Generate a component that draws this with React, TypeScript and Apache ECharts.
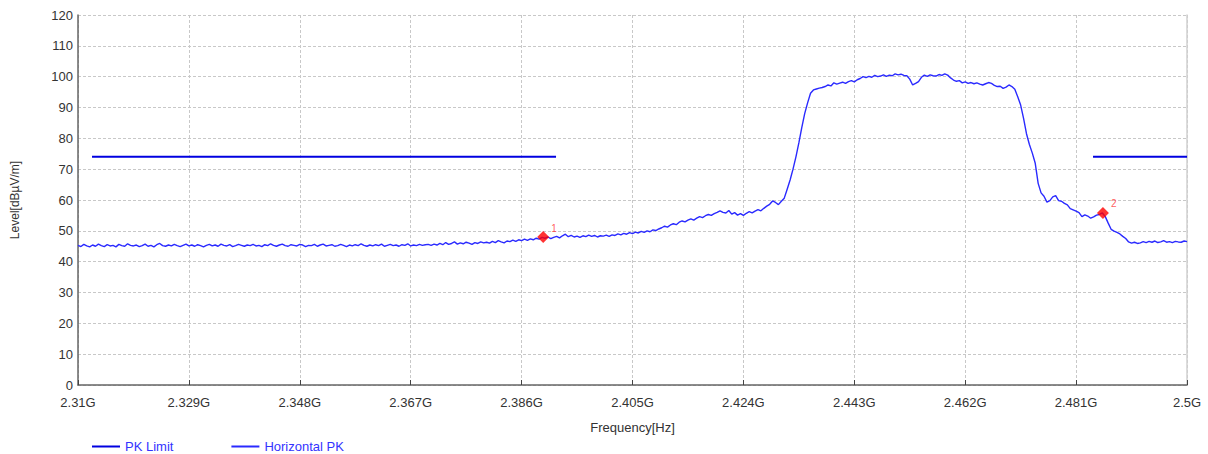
import React, { useEffect, useRef } from "react";
import * as echarts from "echarts";

// Frequency axis (MHz)
const FREQ_MIN = 2310;
const FREQ_MAX = 2500;
const FREQ_TICK = 19;
const sweepStart = 2310; // MHz
const sweepStep = 0.5; // MHz

// Level axis
const LEVEL_MIN = 0;
const LEVEL_MAX = 120;
const LEVEL_TICK = 10;

// Horizontal PK trace levels (dBµV/m), one per sweep point
const traceLevels: number[] = [
  45.3, 44.9, 45.6, 45.1, 44.8, 45.4, 45.0, 45.7, 45.2, 44.9, 45.5, 45.1, 45.3, 44.8, 45.6, 45.2, 45.0, 45.8, 45.3, 45.1,
  45.4, 44.9, 45.2, 45.7, 45.0, 45.3, 44.8, 45.5, 45.9, 45.2, 45.0, 45.4, 45.1, 45.6, 45.2, 44.9, 45.3, 45.7, 45.1, 45.4,
  45.0, 45.5, 45.2, 44.8, 45.3, 45.6, 45.1, 45.4, 45.0, 45.7, 45.3, 45.1, 45.5, 44.9, 45.2, 45.6, 45.3, 45.0, 45.4, 45.2,
  45.6, 45.1, 45.3, 44.9, 45.5, 45.2, 45.8, 45.3, 45.0, 45.4, 45.7, 45.2, 45.0, 45.5, 45.3, 45.1, 45.6, 45.4, 44.9, 45.3,
  45.2, 45.6, 45.0, 45.4, 45.7, 45.1, 45.3, 45.5, 45.0, 45.2, 45.6, 45.3, 44.9, 45.4, 45.1, 45.5, 45.2, 45.8, 45.3, 45.0,
  45.4, 45.1, 45.5, 45.2, 45.7, 45.0, 45.3, 45.6, 45.2, 45.4, 45.0, 45.5, 45.3, 45.8, 45.1, 45.4, 45.2, 45.6, 45.3, 45.5,
  45.6, 45.3, 45.7, 45.4, 45.9, 45.5, 46.2, 45.6, 45.9, 46.4, 45.7, 46.1, 45.8, 46.3, 46.0, 45.6, 46.2, 45.9, 46.4, 46.1,
  46.3, 46.0, 46.6, 46.2, 46.8, 46.4, 46.1, 46.7, 46.5, 47.0, 46.6, 47.1, 46.8, 47.3, 46.9, 47.4, 47.1, 47.6, 47.3, 47.9,
  47.6, 48.0, 47.5, 47.9, 48.2, 47.7, 48.4, 48.9, 48.1, 48.5, 48.0, 48.3, 47.9, 48.4, 48.1, 48.6, 48.2, 48.5, 48.0, 48.4,
  48.3, 48.6, 48.2, 48.7, 48.5, 49.0, 48.7, 49.2, 48.9, 49.4, 49.1, 49.6, 49.3, 49.8, 49.5, 50.0, 49.7, 50.3, 50.1, 50.6,
  51.0, 51.5, 51.2, 51.9, 52.3, 52.0, 52.8, 53.2, 52.9, 53.5, 53.9, 53.5, 54.1, 54.6, 54.3, 54.9, 55.3, 55.0, 55.6, 56.0,
  56.5, 56.0, 55.8, 56.6, 55.4, 55.9, 55.1, 55.6, 55.0, 55.7, 56.2, 55.8, 56.4, 56.9, 56.5, 57.3, 58.0, 58.6, 59.7, 59.2,
  58.5, 59.6, 60.6, 63.5, 66.5, 70.0, 74.0, 78.5, 83.5, 88.0, 91.5, 94.6, 95.7, 96.0, 96.3, 96.5, 96.8, 97.3, 97.0, 98.0,
  97.6, 97.9, 98.2, 97.8, 98.4, 98.7, 98.3, 99.0, 99.4, 100.0, 99.7, 100.1, 99.8, 100.4, 100.0, 100.2, 100.6, 100.1, 100.5, 100.3,
  100.9, 100.6, 100.8, 100.4, 100.3, 99.2, 97.3, 97.8, 98.4, 99.8, 100.5, 100.1, 100.6, 100.3, 100.2, 100.7, 100.4, 100.9, 100.5, 99.6,
  98.9, 98.5, 98.7, 98.0, 98.3, 97.8, 98.1, 97.7, 98.0, 97.6, 97.3, 97.7, 98.1, 97.8, 97.2, 96.8, 96.9, 96.2, 96.6, 97.3,
  96.8, 95.9, 93.5, 90.8, 86.5, 81.5, 78.0, 75.2, 71.9, 65.4, 62.3, 61.2, 59.3, 59.8, 61.0, 61.4, 59.8, 59.6, 58.9, 58.4,
  57.2, 56.8, 56.4, 55.9, 54.6, 55.2, 54.8, 54.1, 54.5, 55.1, 55.3, 55.8, 54.6, 52.5, 50.5, 49.9, 49.5, 49.0, 48.2, 47.5,
  46.4, 46.0, 46.3, 45.9, 46.1, 46.5, 46.2, 46.6, 46.3, 46.7, 46.2, 46.4, 46.8, 46.3, 46.5, 46.2, 46.6, 46.4, 46.3, 46.7,
  46.5,
];

// PK Limit segments (MHz) and level
const limitSegments: [number, number][] = [
  [2312.4, 2391.9],
  [2483.9, 2500.0],
];
const limitLevel = 74;

// Markers
const markerLabels = ["1", "2"];
const markerFreqs = [2389.7, 2485.6];
const markerLevels = [48.0, 55.8];

const toAxis = (fMHz: number) => fMHz - FREQ_MIN;
const fmtFreq = (v: number) => {
  const g = (FREQ_MIN + v) / 1000;
  return parseFloat(g.toFixed(3)) + "G";
};

export default function App() {
  const ref = useRef<HTMLDivElement>(null);
  useEffect(() => {
    if (!ref.current) return;
    const chart = echarts.init(ref.current, undefined, { renderer: "svg" });
    const traceData = traceLevels.map((lv, i) => [toAxis(sweepStart + i * sweepStep), lv]);
    const limitSeries = limitSegments.map((seg) => ({
      name: "PK Limit",
      type: "line",
      data: [
        [toAxis(seg[0]), limitLevel],
        [toAxis(seg[1]), limitLevel],
      ],
      showSymbol: false,
      lineStyle: { color: "#0000e0", width: 2 },
      itemStyle: { color: "#0000e0" },
      z: 3,
    }));
    const font = "Arial, 'Liberation Sans', sans-serif";
    chart.setOption({
      animation: false,
      backgroundColor: "#ffffff",
      grid: { left: 78, right: 21, top: 15, bottom: 69, containLabel: false },
      legend: {
        data: ["PK Limit", "Horizontal PK"],
        left: 92,
        top: 440,
        padding: 0,
        icon: "rect",
        itemWidth: 28,
        itemHeight: 2,
        itemGap: 58,
        textStyle: { color: "#3333ff", fontSize: 13, fontFamily: font },
      },
      xAxis: {
        type: "value",
        min: 0,
        max: FREQ_MAX - FREQ_MIN,
        interval: FREQ_TICK,
        name: "Frequency[Hz]",
        nameLocation: "middle",
        nameGap: 36,
        nameTextStyle: { color: "#333", fontSize: 13, fontFamily: font },
        axisLine: { show: true, lineStyle: { color: "#666", width: 1.5 } },
        axisTick: { show: true, inside: true, length: 5, lineStyle: { color: "#444" } },
        axisLabel: { color: "#333", fontSize: 13, fontFamily: font, margin: 11, formatter: fmtFreq },
        splitLine: { show: true, lineStyle: { color: "#c8c8c8", type: [3, 2], width: 1 } },
      },
      yAxis: [
        {
          type: "value",
          min: LEVEL_MIN,
          max: LEVEL_MAX,
          interval: LEVEL_TICK,
          name: "Level[dBµV/m]",
          nameLocation: "middle",
          nameGap: 57,
          nameTextStyle: { color: "#333", fontSize: 12, fontFamily: font },
          axisLine: { show: true, lineStyle: { color: "#666", width: 1.5 } },
          axisTick: { show: false },
          axisLabel: { color: "#333", fontSize: 13, fontFamily: font, margin: 5 },
          splitLine: { show: true, lineStyle: { color: "#c8c8c8", type: [3, 2], width: 1 } },
        },
        {
          type: "value",
          position: "right",
          min: LEVEL_MIN,
          max: LEVEL_MAX,
          interval: LEVEL_TICK,
          axisLine: { show: true, lineStyle: { color: "#d0d0d0", width: 1.5 } },
          axisTick: { show: false },
          axisLabel: { show: false },
          splitLine: { show: false },
        },
      ],
      series: [
        ...limitSeries,
        {
          name: "Horizontal PK",
          type: "line",
          data: traceData,
          showSymbol: false,
          lineStyle: { color: "#2a2aff", width: 1.4 },
          itemStyle: { color: "#2a2aff" },
          z: 4,
        },
        {
          name: "Markers",
          type: "scatter",
          data: markerFreqs.map((f, i) => ({ value: [toAxis(f), markerLevels[i]], name: markerLabels[i] })),
          symbol: "diamond",
          symbolSize: 12,
          itemStyle: { color: "#ff0000" },
          label: {
            show: true,
            formatter: (p: any) => p.name,
            position: "right",
            offset: [-3, -9],
            color: "#ff3333",
            fontSize: 10,
            fontFamily: font,
          },
          z: 5,
        },
      ],
    });
    return () => chart.dispose();
  }, []);
  return (
    <div
      ref={ref}
      style={{ position: "fixed", left: 0, top: 0, width: 1208, height: 454, background: "#fff" }}
    />
  );
}
